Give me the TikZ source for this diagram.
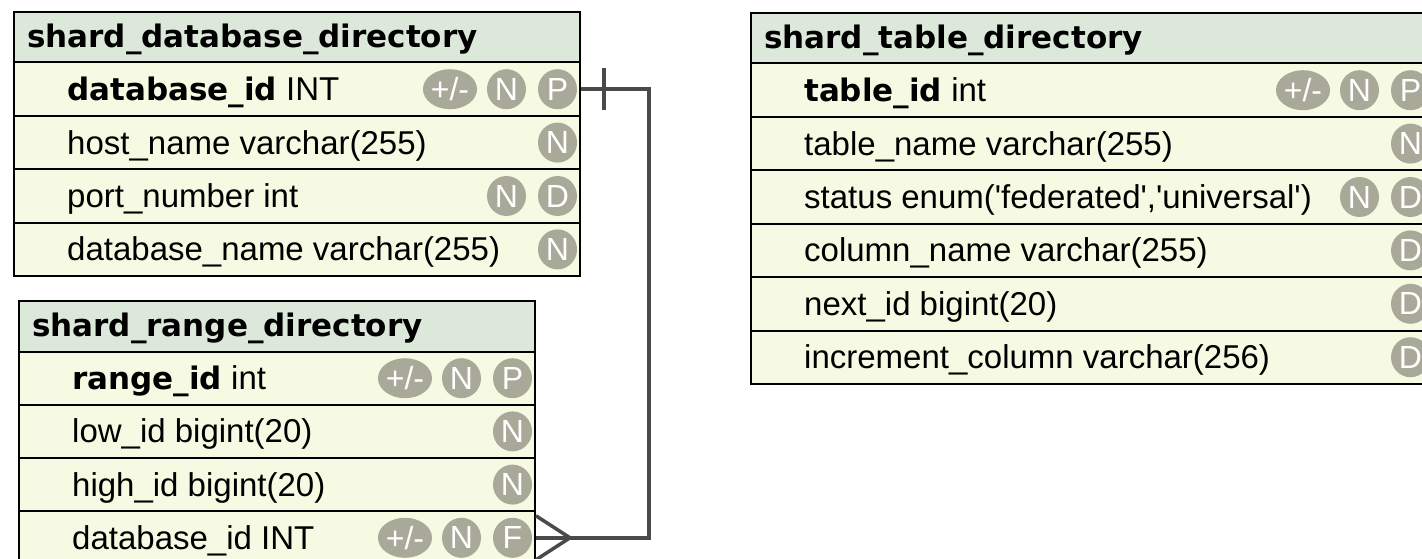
\documentclass[tikz,border=0pt]{standalone}
\usepackage{fontspec}
\setmainfont{Liberation Sans}
\newfontfamily\titlefont{DejaVu Sans}
\usetikzlibrary{shapes.geometric}

\definecolor{hdrfill}{HTML}{DBE8DA}
\definecolor{rowfill}{HTML}{F6FAE2}
\definecolor{badgefill}{HTML}{A9A999}
\definecolor{linkgray}{HTML}{4A4A4A}

\tikzset{
  tblhead/.style={draw=black, line width=2pt, fill=hdrfill, anchor=north west,
    inner sep=0pt, minimum height=50.5pt},
  tblrow/.style={draw=black, line width=2pt, fill=rowfill, anchor=north west,
    inner sep=0pt, minimum height=53.4pt},
  titletext/.style={anchor=base west, inner sep=0pt,
    font=\titlefont\bfseries\fontsize{31}{31}\selectfont},
  fieldtext/.style={anchor=base west, inner sep=0pt,
    font=\fontsize{33}{33}\selectfont},
  badge/.style={ellipse, fill=badgefill, text=white, inner sep=0pt,
    minimum width=39pt, minimum height=40pt, font=\fontsize{32}{32}\selectfont},
  widebadge/.style={badge, minimum width=54pt},
  link/.style={draw=linkgray, line width=3.5pt},
}

% table header: id, left, top, width, title
\newcommand\erhead[5]{%
  \node[tblhead, minimum width=#4pt] (#1) at (#2,#3) {};
  \node[titletext] (#1-title) at ([xshift=14pt,yshift=-10.5pt]#1.west) {#5};}
% table column row: id, left, top, width, content
\newcommand\errow[5]{%
  \node[tblrow, minimum width=#4pt] (#1) at (#2,#3) {};
  \node[fieldtext] (#1-text) at ([xshift=54pt,yshift=-11.5pt]#1.west) {#5};}
% column flag: style, name, row, offset from the right edge, letter
\newcommand\erflag[5]{%
  \node[#1] (#2) at ([xshift=-#4pt]#3.east) {#5};}
\newcommand\erkey[1]{{\titlefont\bfseries\fontsize{31}{31}\selectfont #1}}

\begin{document}
\begin{tikzpicture}[x=1pt, y=-1pt]
\useasboundingbox (0,0) rectangle (1422,559);
\clip (0,0) rectangle (1422,559);
\fill[white] (0,0) rectangle (1422,559);

% shard_database_directory
\erhead{db}{13}{11}{566}{shard\_database\_directory}
\errow{db-r1}{13}{61.5}{566}{\erkey{database\_id} INT}
\errow{db-r2}{13}{114.9}{566}{host\_name varchar(255)}
\errow{db-r3}{13}{168.3}{566}{port\_number int}
\errow{db-r4}{13}{221.7}{566}{database\_name varchar(255)}
\erflag{widebadge}{db-r1-inc}{db-r1}{131}{+/-}
\erflag{badge}{db-r1-nn}{db-r1}{74.5}{N}
\erflag{badge}{db-r1-pk}{db-r1}{23.5}{P}
\erflag{badge}{db-r2-nn}{db-r2}{23.5}{N}
\erflag{badge}{db-r3-nn}{db-r3}{74.5}{N}
\erflag{badge}{db-r3-df}{db-r3}{23.5}{D}
\erflag{badge}{db-r4-nn}{db-r4}{23.5}{N}

% shard_range_directory
\erhead{rg}{18}{300}{516}{shard\_range\_directory}
\errow{rg-r1}{18}{350.5}{516}{\erkey{range\_id} int}
\errow{rg-r2}{18}{403.7}{516}{low\_id bigint(20)}
\errow{rg-r3}{18}{456.9}{516}{high\_id bigint(20)}
\errow{rg-r4}{18}{510.1}{516}{database\_id INT}
\erflag{widebadge}{rg-r1-inc}{rg-r1}{131}{+/-}
\erflag{badge}{rg-r1-nn}{rg-r1}{74.5}{N}
\erflag{badge}{rg-r1-pk}{rg-r1}{23.5}{P}
\erflag{badge}{rg-r2-nn}{rg-r2}{23.5}{N}
\erflag{badge}{rg-r3-nn}{rg-r3}{23.5}{N}
\erflag{widebadge}{rg-r4-inc}{rg-r4}{131}{+/-}
\erflag{badge}{rg-r4-nn}{rg-r4}{74.5}{N}
\erflag{badge}{rg-r4-fk}{rg-r4}{23.5}{F}

% shard_table_directory
\erhead{tb}{750}{12}{682}{shard\_table\_directory}
\errow{tb-r1}{750}{62.5}{682}{\erkey{table\_id} int}
\errow{tb-r2}{750}{115.9}{682}{table\_name varchar(255)}
\errow{tb-r3}{750}{169.3}{682}{status enum(\textquotesingle federated\textquotesingle,\textquotesingle universal\textquotesingle)}
\errow{tb-r4}{750}{222.7}{682}{column\_name varchar(255)}
\errow{tb-r5}{750}{276.1}{682}{next\_id bigint(20)}
\errow{tb-r6}{750}{329.5}{682}{increment\_column varchar(256)}
\erflag{widebadge}{tb-r1-inc}{tb-r1}{131}{+/-}
\erflag{badge}{tb-r1-nn}{tb-r1}{74.5}{N}
\erflag{badge}{tb-r1-pk}{tb-r1}{23.5}{P}
\erflag{badge}{tb-r2-nn}{tb-r2}{23.5}{N}
\erflag{badge}{tb-r3-nn}{tb-r3}{74.5}{N}
\erflag{badge}{tb-r3-df}{tb-r3}{23.5}{D}
\erflag{badge}{tb-r4-df}{tb-r4}{23.5}{D}
\erflag{badge}{tb-r5-df}{tb-r5}{23.5}{D}
\erflag{badge}{tb-r6-df}{tb-r6}{23.5}{D}

% relation: shard_range_directory.database_id -> shard_database_directory.database_id
\draw[link] (db-r1.east) -- ++(68,0) |- (rg-r4.east);
\draw[link] ([xshift=23pt,yshift=21pt]db-r1.east) -- ([xshift=23pt,yshift=-21pt]db-r1.east);
\draw[link] ([yshift=22pt]rg-r4.east) -- ([xshift=34pt]rg-r4.east) -- ([yshift=-22pt]rg-r4.east);
\end{tikzpicture}
\end{document}
